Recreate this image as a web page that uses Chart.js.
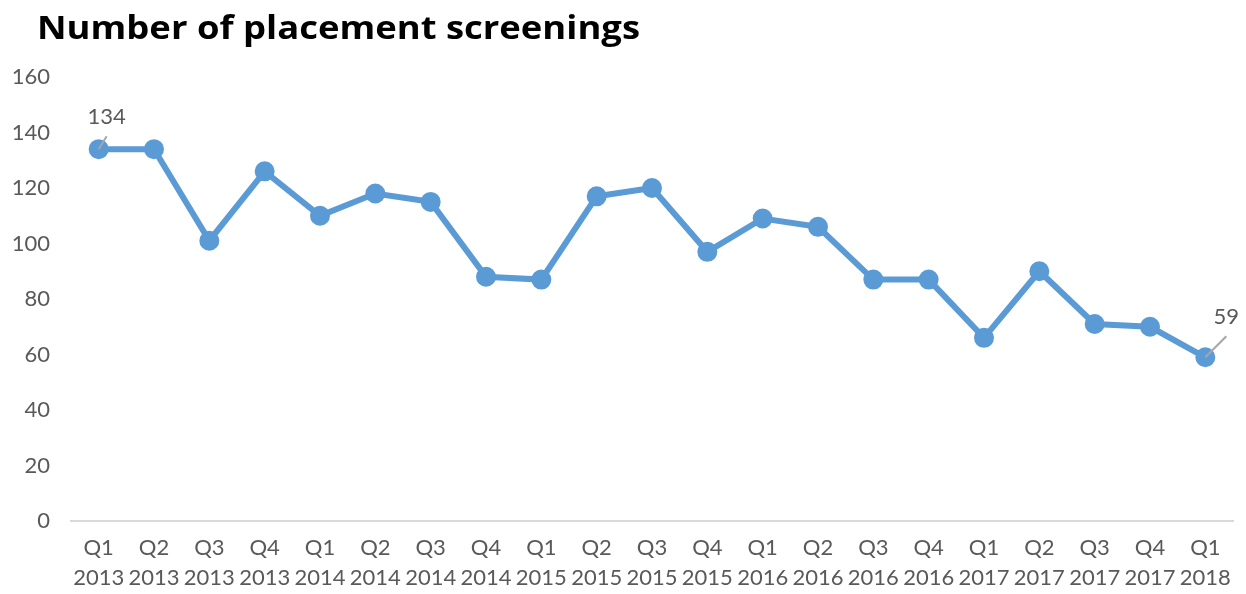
<!DOCTYPE html>
<html>
<head>
<meta charset="utf-8">
<script src="https://cdn.jsdelivr.net/npm/chart.js@4"></script>
<style>
  html, body { margin: 0; padding: 0; background: #fff; }
  #wrap { width: 1246px; height: 594px; position: relative; }
</style>
</head>
<body>
<div id="wrap"><canvas id="screenings-chart"></canvas></div>
<script>
const quarters = ['Q1','Q2','Q3','Q4','Q1','Q2','Q3','Q4','Q1','Q2','Q3','Q4','Q1','Q2','Q3','Q4','Q1','Q2','Q3','Q4','Q1'];
const years = ['2013','2013','2013','2013','2014','2014','2014','2014','2015','2015','2015','2015','2016','2016','2016','2016','2017','2017','2017','2017','2018'];
const screenings = [134, 134, 101, 126, 110, 118, 115, 88, 87, 117, 120, 97, 109, 106, 87, 87, 66, 90, 71, 70, 59];
const yTicks = [0, 20, 40, 60, 80, 100, 120, 140, 160];
const chartTitle = 'Number of placement screenings';

const labels = quarters.map((q, i) => [q, years[i]]);

// title + the two data labels with leader lines
const extras = {
    id: 'extras',
    afterDraw(chart) {
        const c = chart.ctx;
        c.save();
        c.fillStyle = '#000';
        c.font = 'bold 33px "Open Sans"';
        c.textBaseline = 'middle';
        c.textAlign = 'left';
        // reference title is a bit wider than Open Sans, stretch to ~603px
        const w = c.measureText(chartTitle).width;
        c.translate(37, 30);
        c.scale(603 / w, 1);
        c.fillText(chartTitle, 0, 0);
        c.restore();

        c.save();
        const meta = chart.getDatasetMeta(0);
        const marks = [
            { i: 0, lx: 8, ly: -32, ex: 8, ey: -13 },
            { i: screenings.length - 1, lx: 21, ly: -40, ex: 21, ey: -21 }
        ];
        c.font = '22px Lato';
        c.textAlign = 'center';
        c.textBaseline = 'middle';
        c.fillStyle = '#595959';
        marks.forEach(m => {
            const p = meta.data[m.i];
            c.strokeStyle = '#a6a6a6';
            c.lineWidth = 2;
            c.beginPath();
            c.moveTo(p.x, p.y);
            c.lineTo(p.x + m.ex, p.y + m.ey);
            c.stroke();
            c.fillText(String(screenings[m.i]), p.x + m.lx, p.y + m.ly);
        });
        c.restore();
    }
};

const ctx = document.getElementById('screenings-chart');

const graph = new Chart(ctx, {
    type: 'line',
    data: {
        labels: labels,
        datasets: [{
            data: screenings,
            borderColor: '#5b9bd5',
            backgroundColor: '#5b9bd5',
            borderWidth: 6,
            pointRadius: 7,
            pointHoverRadius: 7,
            fill: false,
            tension: 0
        }]
    },
    options: {
        responsive: true,
        maintainAspectRatio: false,
        animation: false,
        layout: { padding: { top: 77, right: 12, left: 0, bottom: 0 } },
        plugins: {
            legend: { display: false },
            title: { display: false },
            tooltip: { enabled: false }
        },
        scales: {
            x: {
                offset: true,
                grid: { display: false, drawTicks: false },
                border: { display: true, color: '#d9d9d9', width: 2 },
                ticks: {
                    color: '#595959',
                    font: { family: 'Lato', size: 22, lineHeight: 1.36 },
                    padding: 12,
                    maxRotation: 0,
                    autoSkip: false
                },
                afterFit(scale) { scale.height = 73; }
            },
            y: {
                min: 0,
                max: 160,
                afterBuildTicks(scale) { scale.ticks = yTicks.map(v => ({ value: v })); },
                grid: { display: false, drawTicks: false },
                border: { display: false },
                ticks: {
                    color: '#595959',
                    font: { family: 'Lato', size: 22 },
                    padding: 21
                },
                afterFit(scale) { scale.width = 71; }
            }
        }
    },
    plugins: [extras]
});
</script>
</body>
</html>
